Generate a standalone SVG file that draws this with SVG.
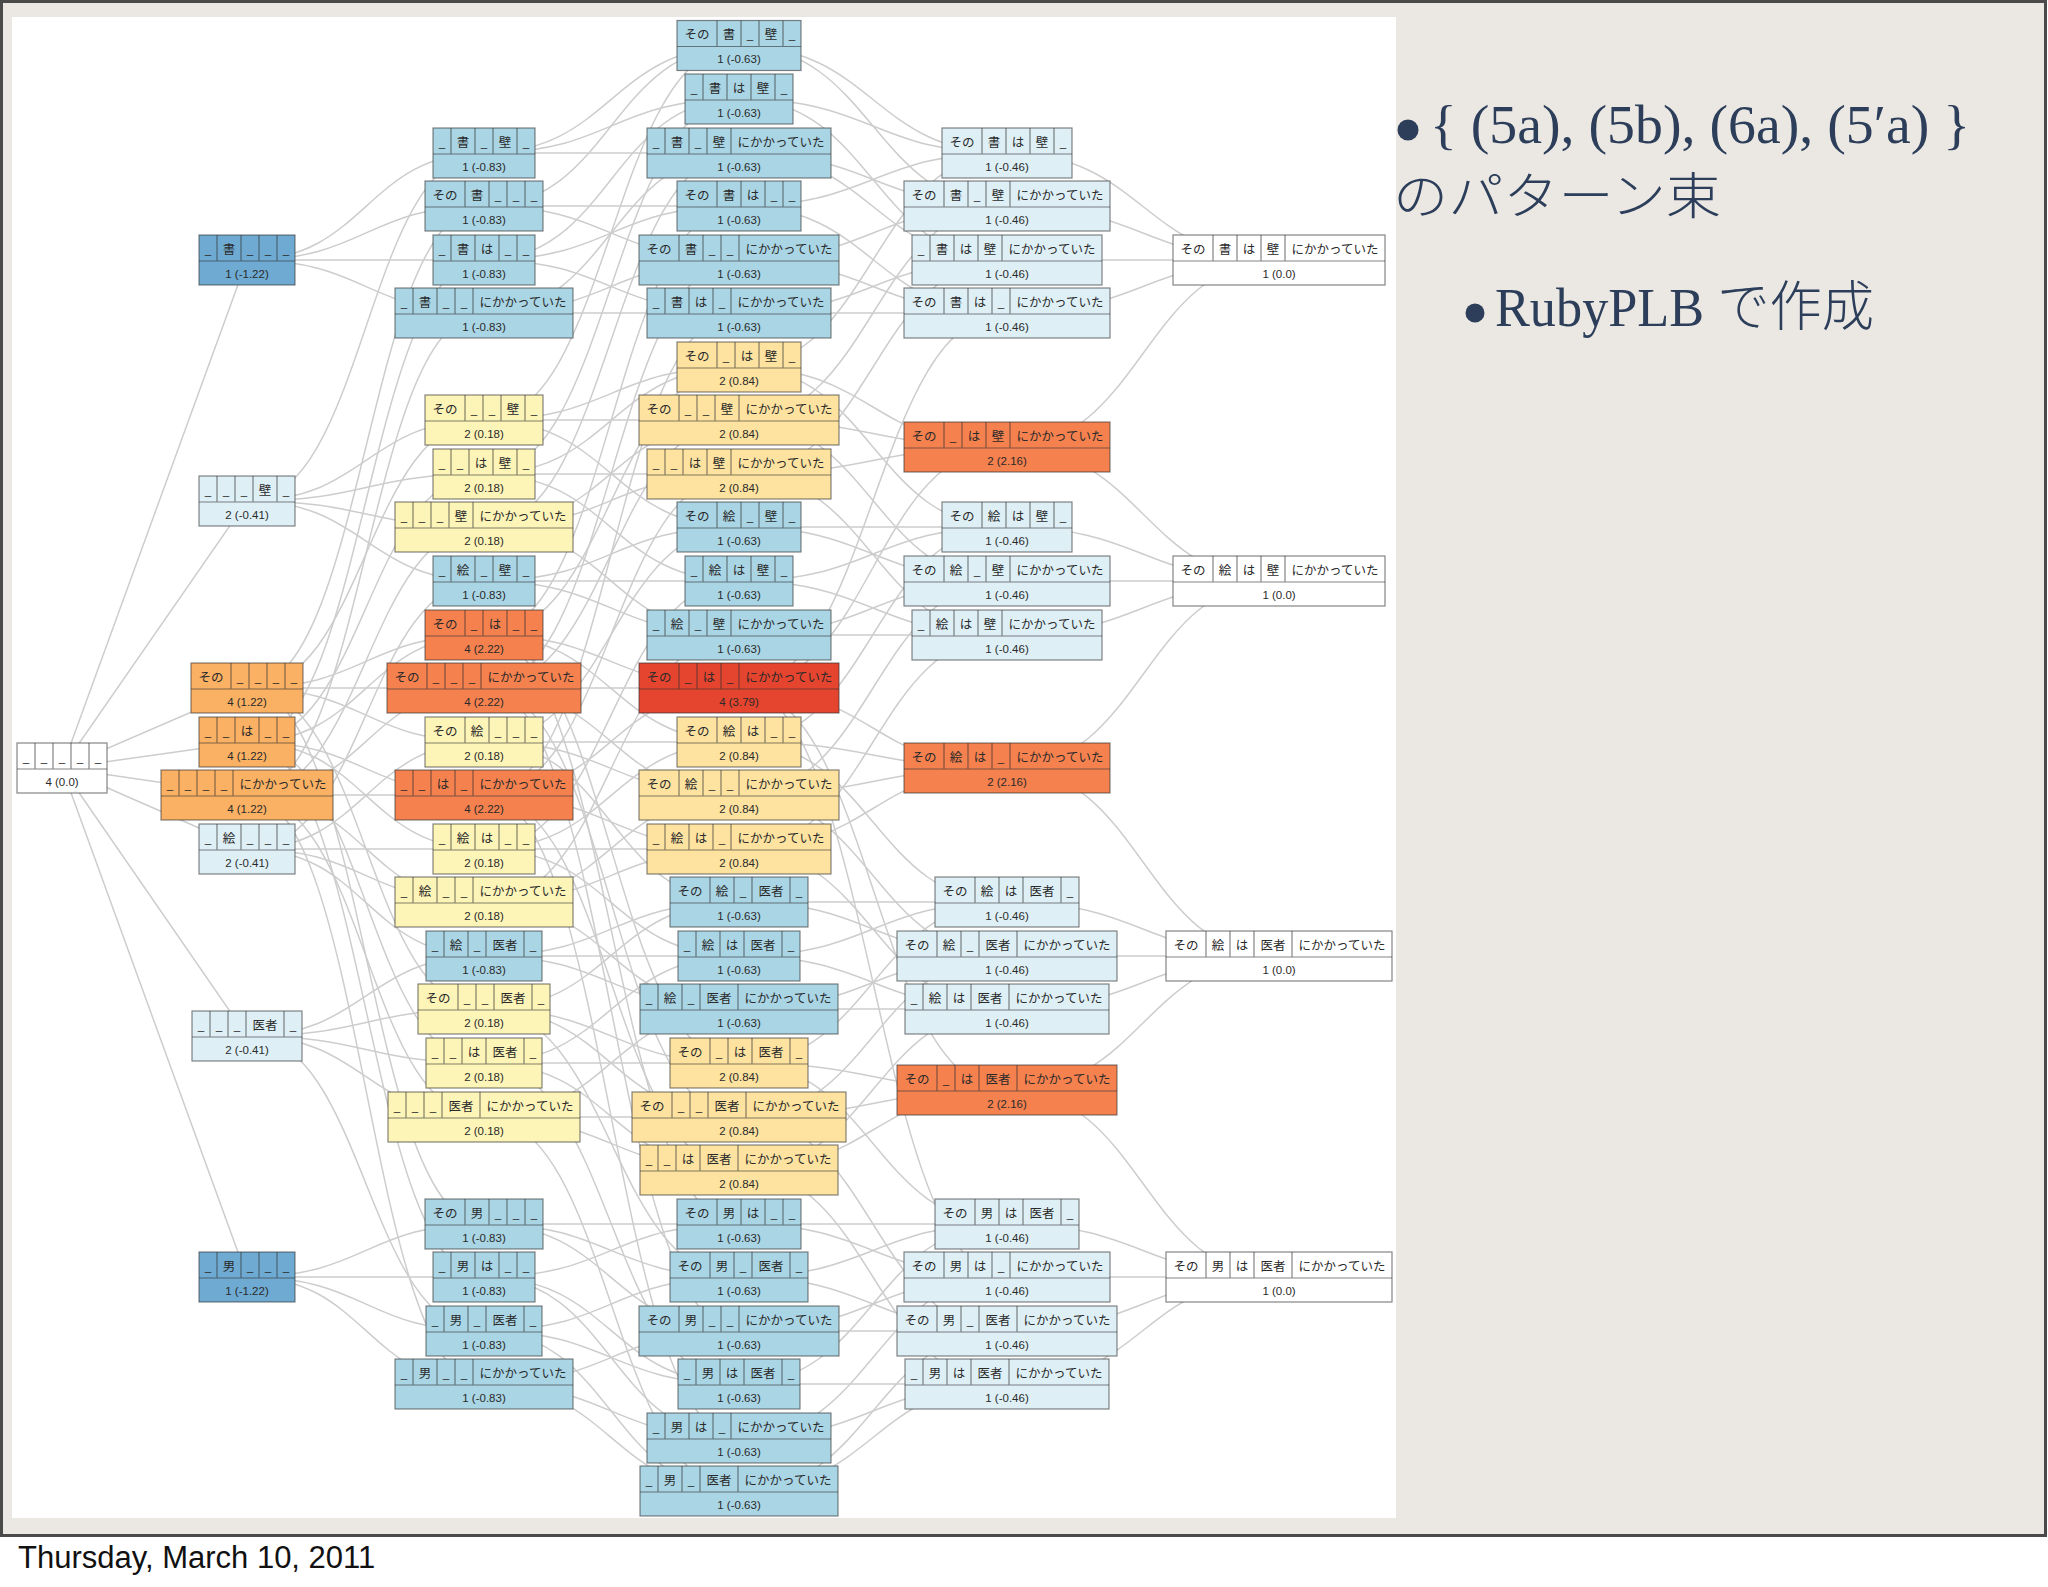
<svg xmlns="http://www.w3.org/2000/svg" width="2048" height="1587" viewBox="0 0 2048 1587">
<style>
.node rect{stroke:#333;stroke-opacity:.6;stroke-width:1.2}
.node path{fill:none;stroke:#333;stroke-opacity:.6;stroke-width:1.2}
.c{font-family:"Noto Sans CJK JP",sans-serif;font-size:12.5px;fill:#2a2a2a;text-anchor:middle}
.n{font-family:"Liberation Sans","Noto Sans",sans-serif;font-size:11.5px;fill:#2a2a2a;text-anchor:middle}
.b1 rect{fill:#6eaad2}.b2 rect{fill:#a9d5e4}.b3 rect{fill:#def0f6}.w rect{fill:#fff}
.y1 rect{fill:#fdf4b8}.y2 rect{fill:#fde2a0}.o1 rect{fill:#fbb163}.o2 rect{fill:#f5814f}.r rect{fill:#e5442e}
#edges path{fill:none;stroke:#cdcdcd;stroke-width:1.5}
.t{fill:#2c3e5a}
</style>
<rect width="2048" height="1587" fill="#fff"/>
<rect x="1.5" y="1.5" width="2044" height="1534" fill="#ebe8e3" stroke="#4a4a4a" stroke-width="3"/>
<rect x="12" y="17" width="1384" height="1501" fill="#fff"/>
<g id="edges">
<path d="M62 768L247 260"/><path d="M62 768L247 501"/><path d="M62 768L247 688"/><path d="M62 768L247 742"/><path d="M62 768L247 795"/><path d="M62 768L247 849"/><path d="M62 768L247 1036"/><path d="M62 768L247 1277"/>
<path d="M247 260C366 260 366 153 484 153"/><path d="M247 501C366 501 366 153 484 153"/>
<path d="M247 688C366 688 366 206 484 206"/><path d="M247 260C366 260 366 206 484 206"/>
<path d="M247 260C366 260 366 260 484 260"/><path d="M247 742C366 742 366 260 484 260"/>
<path d="M247 260C366 260 366 313 484 313"/><path d="M247 795C366 795 366 313 484 313"/>
<path d="M247 688C366 688 366 420 484 420"/><path d="M247 501C366 501 366 420 484 420"/>
<path d="M247 742C366 742 366 474 484 474"/><path d="M247 501C366 501 366 474 484 474"/>
<path d="M247 501C366 501 366 527 484 527"/><path d="M247 795C366 795 366 527 484 527"/>
<path d="M247 849C366 849 366 581 484 581"/><path d="M247 501C366 501 366 581 484 581"/>
<path d="M247 688C366 688 366 635 484 635"/><path d="M247 742C366 742 366 635 484 635"/>
<path d="M247 688C366 688 366 688 484 688"/><path d="M247 795C366 795 366 688 484 688"/>
<path d="M247 688C366 688 366 742 484 742"/><path d="M247 849C366 849 366 742 484 742"/>
<path d="M247 742C366 742 366 795 484 795"/><path d="M247 795C366 795 366 795 484 795"/>
<path d="M247 849C366 849 366 849 484 849"/><path d="M247 742C366 742 366 849 484 849"/>
<path d="M247 849C366 849 366 902 484 902"/><path d="M247 795C366 795 366 902 484 902"/>
<path d="M247 849C366 849 366 956 484 956"/><path d="M247 1036C366 1036 366 956 484 956"/>
<path d="M247 688C366 688 366 1009 484 1009"/><path d="M247 1036C366 1036 366 1009 484 1009"/>
<path d="M247 742C366 742 366 1063 484 1063"/><path d="M247 1036C366 1036 366 1063 484 1063"/>
<path d="M247 1036C366 1036 366 1117 484 1117"/><path d="M247 795C366 795 366 1117 484 1117"/>
<path d="M247 688C366 688 366 1224 484 1224"/><path d="M247 1277C366 1277 366 1224 484 1224"/>
<path d="M247 1277C366 1277 366 1277 484 1277"/><path d="M247 742C366 742 366 1277 484 1277"/>
<path d="M247 1277C366 1277 366 1331 484 1331"/><path d="M247 1036C366 1036 366 1331 484 1331"/>
<path d="M247 1277C366 1277 366 1384 484 1384"/><path d="M247 795C366 795 366 1384 484 1384"/>
<path d="M484 153C611 153 611 46 739 46"/><path d="M484 420C611 420 611 46 739 46"/><path d="M484 206C611 206 611 46 739 46"/>
<path d="M484 474C611 474 611 99 739 99"/><path d="M484 153C611 153 611 99 739 99"/><path d="M484 260C611 260 611 99 739 99"/>
<path d="M484 527C611 527 611 153 739 153"/><path d="M484 313C611 313 611 153 739 153"/><path d="M484 153C611 153 611 153 739 153"/>
<path d="M484 260C611 260 611 206 739 206"/><path d="M484 635C611 635 611 206 739 206"/><path d="M484 206C611 206 611 206 739 206"/>
<path d="M484 313C611 313 611 260 739 260"/><path d="M484 688C611 688 611 260 739 260"/><path d="M484 206C611 206 611 260 739 260"/>
<path d="M484 795C611 795 611 313 739 313"/><path d="M484 313C611 313 611 313 739 313"/><path d="M484 260C611 260 611 313 739 313"/>
<path d="M484 474C611 474 611 367 739 367"/><path d="M484 420C611 420 611 367 739 367"/><path d="M484 635C611 635 611 367 739 367"/>
<path d="M484 527C611 527 611 420 739 420"/><path d="M484 688C611 688 611 420 739 420"/><path d="M484 420C611 420 611 420 739 420"/>
<path d="M484 527C611 527 611 474 739 474"/><path d="M484 795C611 795 611 474 739 474"/><path d="M484 474C611 474 611 474 739 474"/>
<path d="M484 581C611 581 611 527 739 527"/><path d="M484 420C611 420 611 527 739 527"/><path d="M484 742C611 742 611 527 739 527"/>
<path d="M484 474C611 474 611 581 739 581"/><path d="M484 581C611 581 611 581 739 581"/><path d="M484 849C611 849 611 581 739 581"/>
<path d="M484 527C611 527 611 635 739 635"/><path d="M484 902C611 902 611 635 739 635"/><path d="M484 581C611 581 611 635 739 635"/>
<path d="M484 795C611 795 611 688 739 688"/><path d="M484 688C611 688 611 688 739 688"/><path d="M484 635C611 635 611 688 739 688"/>
<path d="M484 849C611 849 611 742 739 742"/><path d="M484 635C611 635 611 742 739 742"/><path d="M484 742C611 742 611 742 739 742"/>
<path d="M484 902C611 902 611 795 739 795"/><path d="M484 688C611 688 611 795 739 795"/><path d="M484 742C611 742 611 795 739 795"/>
<path d="M484 795C611 795 611 849 739 849"/><path d="M484 902C611 902 611 849 739 849"/><path d="M484 849C611 849 611 849 739 849"/>
<path d="M484 956C611 956 611 902 739 902"/><path d="M484 1009C611 1009 611 902 739 902"/><path d="M484 742C611 742 611 902 739 902"/>
<path d="M484 1063C611 1063 611 956 739 956"/><path d="M484 956C611 956 611 956 739 956"/><path d="M484 849C611 849 611 956 739 956"/>
<path d="M484 1117C611 1117 611 1009 739 1009"/><path d="M484 902C611 902 611 1009 739 1009"/><path d="M484 956C611 956 611 1009 739 1009"/>
<path d="M484 1063C611 1063 611 1063 739 1063"/><path d="M484 1009C611 1009 611 1063 739 1063"/><path d="M484 635C611 635 611 1063 739 1063"/>
<path d="M484 1117C611 1117 611 1117 739 1117"/><path d="M484 688C611 688 611 1117 739 1117"/><path d="M484 1009C611 1009 611 1117 739 1117"/>
<path d="M484 1117C611 1117 611 1170 739 1170"/><path d="M484 795C611 795 611 1170 739 1170"/><path d="M484 1063C611 1063 611 1170 739 1170"/>
<path d="M484 1277C611 1277 611 1224 739 1224"/><path d="M484 635C611 635 611 1224 739 1224"/><path d="M484 1224C611 1224 611 1224 739 1224"/>
<path d="M484 1331C611 1331 611 1277 739 1277"/><path d="M484 1009C611 1009 611 1277 739 1277"/><path d="M484 1224C611 1224 611 1277 739 1277"/>
<path d="M484 1384C611 1384 611 1331 739 1331"/><path d="M484 688C611 688 611 1331 739 1331"/><path d="M484 1224C611 1224 611 1331 739 1331"/>
<path d="M484 1063C611 1063 611 1384 739 1384"/><path d="M484 1331C611 1331 611 1384 739 1384"/><path d="M484 1277C611 1277 611 1384 739 1384"/>
<path d="M484 795C611 795 611 1438 739 1438"/><path d="M484 1384C611 1384 611 1438 739 1438"/><path d="M484 1277C611 1277 611 1438 739 1438"/>
<path d="M484 1117C611 1117 611 1491 739 1491"/><path d="M484 1384C611 1384 611 1491 739 1491"/><path d="M484 1331C611 1331 611 1491 739 1491"/>
<path d="M739 99C873 99 873 153 1007 153"/><path d="M739 367C873 367 873 153 1007 153"/><path d="M739 46C873 46 873 153 1007 153"/><path d="M739 206C873 206 873 153 1007 153"/>
<path d="M739 153C873 153 873 206 1007 206"/><path d="M739 420C873 420 873 206 1007 206"/><path d="M739 260C873 260 873 206 1007 206"/><path d="M739 46C873 46 873 206 1007 206"/>
<path d="M739 474C873 474 873 260 1007 260"/><path d="M739 153C873 153 873 260 1007 260"/><path d="M739 313C873 313 873 260 1007 260"/><path d="M739 99C873 99 873 260 1007 260"/>
<path d="M739 313C873 313 873 313 1007 313"/><path d="M739 688C873 688 873 313 1007 313"/><path d="M739 260C873 260 873 313 1007 313"/><path d="M739 206C873 206 873 313 1007 313"/>
<path d="M739 474C873 474 873 447 1007 447"/><path d="M739 420C873 420 873 447 1007 447"/><path d="M739 688C873 688 873 447 1007 447"/><path d="M739 367C873 367 873 447 1007 447"/>
<path d="M739 581C873 581 873 527 1007 527"/><path d="M739 367C873 367 873 527 1007 527"/><path d="M739 527C873 527 873 527 1007 527"/><path d="M739 742C873 742 873 527 1007 527"/>
<path d="M739 635C873 635 873 581 1007 581"/><path d="M739 420C873 420 873 581 1007 581"/><path d="M739 795C873 795 873 581 1007 581"/><path d="M739 527C873 527 873 581 1007 581"/>
<path d="M739 474C873 474 873 635 1007 635"/><path d="M739 635C873 635 873 635 1007 635"/><path d="M739 849C873 849 873 635 1007 635"/><path d="M739 581C873 581 873 635 1007 635"/>
<path d="M739 849C873 849 873 768 1007 768"/><path d="M739 688C873 688 873 768 1007 768"/><path d="M739 795C873 795 873 768 1007 768"/><path d="M739 742C873 742 873 768 1007 768"/>
<path d="M739 956C873 956 873 902 1007 902"/><path d="M739 1063C873 1063 873 902 1007 902"/><path d="M739 902C873 902 873 902 1007 902"/><path d="M739 742C873 742 873 902 1007 902"/>
<path d="M739 1009C873 1009 873 956 1007 956"/><path d="M739 1117C873 1117 873 956 1007 956"/><path d="M739 795C873 795 873 956 1007 956"/><path d="M739 902C873 902 873 956 1007 956"/>
<path d="M739 1170C873 1170 873 1009 1007 1009"/><path d="M739 1009C873 1009 873 1009 1007 1009"/><path d="M739 849C873 849 873 1009 1007 1009"/><path d="M739 956C873 956 873 1009 1007 1009"/>
<path d="M739 1170C873 1170 873 1090 1007 1090"/><path d="M739 1117C873 1117 873 1090 1007 1090"/><path d="M739 688C873 688 873 1090 1007 1090"/><path d="M739 1063C873 1063 873 1090 1007 1090"/>
<path d="M739 1384C873 1384 873 1224 1007 1224"/><path d="M739 1063C873 1063 873 1224 1007 1224"/><path d="M739 1277C873 1277 873 1224 1007 1224"/><path d="M739 1224C873 1224 873 1224 1007 1224"/>
<path d="M739 1438C873 1438 873 1277 1007 1277"/><path d="M739 688C873 688 873 1277 1007 1277"/><path d="M739 1331C873 1331 873 1277 1007 1277"/><path d="M739 1224C873 1224 873 1277 1007 1277"/>
<path d="M739 1491C873 1491 873 1331 1007 1331"/><path d="M739 1117C873 1117 873 1331 1007 1331"/><path d="M739 1331C873 1331 873 1331 1007 1331"/><path d="M739 1277C873 1277 873 1331 1007 1331"/>
<path d="M739 1170C873 1170 873 1384 1007 1384"/><path d="M739 1491C873 1491 873 1384 1007 1384"/><path d="M739 1438C873 1438 873 1384 1007 1384"/><path d="M739 1384C873 1384 873 1384 1007 1384"/>
<path d="M1007 260C1143 260 1143 260 1279 260"/><path d="M1007 447C1143 447 1143 260 1279 260"/><path d="M1007 206C1143 206 1143 260 1279 260"/><path d="M1007 313C1143 313 1143 260 1279 260"/><path d="M1007 153C1143 153 1143 260 1279 260"/>
<path d="M1007 635C1143 635 1143 581 1279 581"/><path d="M1007 447C1143 447 1143 581 1279 581"/><path d="M1007 581C1143 581 1143 581 1279 581"/><path d="M1007 768C1143 768 1143 581 1279 581"/><path d="M1007 527C1143 527 1143 581 1279 581"/>
<path d="M1007 1009C1143 1009 1143 956 1279 956"/><path d="M1007 1090C1143 1090 1143 956 1279 956"/><path d="M1007 956C1143 956 1143 956 1279 956"/><path d="M1007 768C1143 768 1143 956 1279 956"/><path d="M1007 902C1143 902 1143 956 1279 956"/>
<path d="M1007 1384C1143 1384 1143 1277 1279 1277"/><path d="M1007 1090C1143 1090 1143 1277 1279 1277"/><path d="M1007 1331C1143 1331 1143 1277 1279 1277"/><path d="M1007 1277C1143 1277 1143 1277 1279 1277"/><path d="M1007 1224C1143 1224 1143 1277 1279 1277"/>
</g>
<g id="nodes">
<g id="p_root" class="node w" transform="translate(17,743)"><rect width="90" height="50"/><path d="M0 26h90M18 0v26M36 0v26M54 0v26M72 0v26"/><text class="c" y="18.5"><tspan x="9">_</tspan><tspan x="27">_</tspan><tspan x="45">_</tspan><tspan x="63">_</tspan><tspan x="81">_</tspan></text><text class="n" x="45" y="42.5">4 (0.0)</text></g>

<g id="p__K___" class="node b1" transform="translate(199,235)"><rect width="96" height="50"/><path d="M0 26h96M18 0v26M42 0v26M60 0v26M78 0v26"/><text class="c" y="18.5"><tspan x="9">_</tspan><tspan x="30">書</tspan><tspan x="51">_</tspan><tspan x="69">_</tspan><tspan x="87">_</tspan></text><text class="n" x="48" y="42.5">1 (-1.22)</text></g>
<g id="p____B_" class="node b3" transform="translate(199,476)"><rect width="96" height="50"/><path d="M0 26h96M18 0v26M36 0v26M54 0v26M78 0v26"/><text class="c" y="18.5"><tspan x="9">_</tspan><tspan x="27">_</tspan><tspan x="45">_</tspan><tspan x="66">壁</tspan><tspan x="87">_</tspan></text><text class="n" x="48" y="42.5">2 (-0.41)</text></g>
<g id="p_T____" class="node o1" transform="translate(191,663)"><rect width="112" height="50"/><path d="M0 26h112M40 0v26M58 0v26M76 0v26M94 0v26"/><text class="c" y="18.5"><tspan x="20">その</tspan><tspan x="49">_</tspan><tspan x="67">_</tspan><tspan x="85">_</tspan><tspan x="103">_</tspan></text><text class="n" x="56" y="42.5">4 (1.22)</text></g>
<g id="p___W__" class="node o1" transform="translate(199,717)"><rect width="96" height="50"/><path d="M0 26h96M18 0v26M36 0v26M60 0v26M78 0v26"/><text class="c" y="18.5"><tspan x="9">_</tspan><tspan x="27">_</tspan><tspan x="48">は</tspan><tspan x="69">_</tspan><tspan x="87">_</tspan></text><text class="n" x="48" y="42.5">4 (1.22)</text></g>
<g id="p_____N" class="node o1" transform="translate(161,770)"><rect width="172" height="50"/><path d="M0 26h172M18 0v26M36 0v26M54 0v26M72 0v26"/><text class="c" y="18.5"><tspan x="9">_</tspan><tspan x="27">_</tspan><tspan x="45">_</tspan><tspan x="63">_</tspan><tspan x="122">にかかっていた</tspan></text><text class="n" x="86" y="42.5">4 (1.22)</text></g>
<g id="p__E___" class="node b3" transform="translate(199,824)"><rect width="96" height="50"/><path d="M0 26h96M18 0v26M42 0v26M60 0v26M78 0v26"/><text class="c" y="18.5"><tspan x="9">_</tspan><tspan x="30">絵</tspan><tspan x="51">_</tspan><tspan x="69">_</tspan><tspan x="87">_</tspan></text><text class="n" x="48" y="42.5">2 (-0.41)</text></g>
<g id="p____I_" class="node b3" transform="translate(192,1011)"><rect width="110" height="50"/><path d="M0 26h110M18 0v26M36 0v26M54 0v26M92 0v26"/><text class="c" y="18.5"><tspan x="9">_</tspan><tspan x="27">_</tspan><tspan x="45">_</tspan><tspan x="73">医者</tspan><tspan x="101">_</tspan></text><text class="n" x="55" y="42.5">2 (-0.41)</text></g>
<g id="p__O___" class="node b1" transform="translate(199,1252)"><rect width="96" height="50"/><path d="M0 26h96M18 0v26M42 0v26M60 0v26M78 0v26"/><text class="c" y="18.5"><tspan x="9">_</tspan><tspan x="30">男</tspan><tspan x="51">_</tspan><tspan x="69">_</tspan><tspan x="87">_</tspan></text><text class="n" x="48" y="42.5">1 (-1.22)</text></g>

<g id="p__K_B_" class="node b2" transform="translate(433,128)"><rect width="102" height="50"/><path d="M0 26h102M18 0v26M42 0v26M60 0v26M84 0v26"/><text class="c" y="18.5"><tspan x="9">_</tspan><tspan x="30">書</tspan><tspan x="51">_</tspan><tspan x="72">壁</tspan><tspan x="93">_</tspan></text><text class="n" x="51" y="42.5">1 (-0.83)</text></g>
<g id="p_TK___" class="node b2" transform="translate(425,181)"><rect width="118" height="50"/><path d="M0 26h118M40 0v26M64 0v26M82 0v26M100 0v26"/><text class="c" y="18.5"><tspan x="20">その</tspan><tspan x="52">書</tspan><tspan x="73">_</tspan><tspan x="91">_</tspan><tspan x="109">_</tspan></text><text class="n" x="59" y="42.5">1 (-0.83)</text></g>
<g id="p__KW__" class="node b2" transform="translate(433,235)"><rect width="102" height="50"/><path d="M0 26h102M18 0v26M42 0v26M66 0v26M84 0v26"/><text class="c" y="18.5"><tspan x="9">_</tspan><tspan x="30">書</tspan><tspan x="54">は</tspan><tspan x="75">_</tspan><tspan x="93">_</tspan></text><text class="n" x="51" y="42.5">1 (-0.83)</text></g>
<g id="p__K__N" class="node b2" transform="translate(395,288)"><rect width="178" height="50"/><path d="M0 26h178M18 0v26M42 0v26M60 0v26M78 0v26"/><text class="c" y="18.5"><tspan x="9">_</tspan><tspan x="30">書</tspan><tspan x="51">_</tspan><tspan x="69">_</tspan><tspan x="128">にかかっていた</tspan></text><text class="n" x="89" y="42.5">1 (-0.83)</text></g>
<g id="p_T__B_" class="node y1" transform="translate(425,395)"><rect width="118" height="50"/><path d="M0 26h118M40 0v26M58 0v26M76 0v26M100 0v26"/><text class="c" y="18.5"><tspan x="20">その</tspan><tspan x="49">_</tspan><tspan x="67">_</tspan><tspan x="88">壁</tspan><tspan x="109">_</tspan></text><text class="n" x="59" y="42.5">2 (0.18)</text></g>
<g id="p___WB_" class="node y1" transform="translate(433,449)"><rect width="102" height="50"/><path d="M0 26h102M18 0v26M36 0v26M60 0v26M84 0v26"/><text class="c" y="18.5"><tspan x="9">_</tspan><tspan x="27">_</tspan><tspan x="48">は</tspan><tspan x="72">壁</tspan><tspan x="93">_</tspan></text><text class="n" x="51" y="42.5">2 (0.18)</text></g>
<g id="p____BN" class="node y1" transform="translate(395,502)"><rect width="178" height="50"/><path d="M0 26h178M18 0v26M36 0v26M54 0v26M78 0v26"/><text class="c" y="18.5"><tspan x="9">_</tspan><tspan x="27">_</tspan><tspan x="45">_</tspan><tspan x="66">壁</tspan><tspan x="128">にかかっていた</tspan></text><text class="n" x="89" y="42.5">2 (0.18)</text></g>
<g id="p__E_B_" class="node b2" transform="translate(433,556)"><rect width="102" height="50"/><path d="M0 26h102M18 0v26M42 0v26M60 0v26M84 0v26"/><text class="c" y="18.5"><tspan x="9">_</tspan><tspan x="30">絵</tspan><tspan x="51">_</tspan><tspan x="72">壁</tspan><tspan x="93">_</tspan></text><text class="n" x="51" y="42.5">1 (-0.83)</text></g>
<g id="p_T_W__" class="node o2" transform="translate(425,610)"><rect width="118" height="50"/><path d="M0 26h118M40 0v26M58 0v26M82 0v26M100 0v26"/><text class="c" y="18.5"><tspan x="20">その</tspan><tspan x="49">_</tspan><tspan x="70">は</tspan><tspan x="91">_</tspan><tspan x="109">_</tspan></text><text class="n" x="59" y="42.5">4 (2.22)</text></g>
<g id="p_T___N" class="node o2" transform="translate(387,663)"><rect width="194" height="50"/><path d="M0 26h194M40 0v26M58 0v26M76 0v26M94 0v26"/><text class="c" y="18.5"><tspan x="20">その</tspan><tspan x="49">_</tspan><tspan x="67">_</tspan><tspan x="85">_</tspan><tspan x="144">にかかっていた</tspan></text><text class="n" x="97" y="42.5">4 (2.22)</text></g>
<g id="p_TE___" class="node y1" transform="translate(425,717)"><rect width="118" height="50"/><path d="M0 26h118M40 0v26M64 0v26M82 0v26M100 0v26"/><text class="c" y="18.5"><tspan x="20">その</tspan><tspan x="52">絵</tspan><tspan x="73">_</tspan><tspan x="91">_</tspan><tspan x="109">_</tspan></text><text class="n" x="59" y="42.5">2 (0.18)</text></g>
<g id="p___W_N" class="node o2" transform="translate(395,770)"><rect width="178" height="50"/><path d="M0 26h178M18 0v26M36 0v26M60 0v26M78 0v26"/><text class="c" y="18.5"><tspan x="9">_</tspan><tspan x="27">_</tspan><tspan x="48">は</tspan><tspan x="69">_</tspan><tspan x="128">にかかっていた</tspan></text><text class="n" x="89" y="42.5">4 (2.22)</text></g>
<g id="p__EW__" class="node y1" transform="translate(433,824)"><rect width="102" height="50"/><path d="M0 26h102M18 0v26M42 0v26M66 0v26M84 0v26"/><text class="c" y="18.5"><tspan x="9">_</tspan><tspan x="30">絵</tspan><tspan x="54">は</tspan><tspan x="75">_</tspan><tspan x="93">_</tspan></text><text class="n" x="51" y="42.5">2 (0.18)</text></g>
<g id="p__E__N" class="node y1" transform="translate(395,877)"><rect width="178" height="50"/><path d="M0 26h178M18 0v26M42 0v26M60 0v26M78 0v26"/><text class="c" y="18.5"><tspan x="9">_</tspan><tspan x="30">絵</tspan><tspan x="51">_</tspan><tspan x="69">_</tspan><tspan x="128">にかかっていた</tspan></text><text class="n" x="89" y="42.5">2 (0.18)</text></g>
<g id="p__E_I_" class="node b2" transform="translate(426,931)"><rect width="116" height="50"/><path d="M0 26h116M18 0v26M42 0v26M60 0v26M98 0v26"/><text class="c" y="18.5"><tspan x="9">_</tspan><tspan x="30">絵</tspan><tspan x="51">_</tspan><tspan x="79">医者</tspan><tspan x="107">_</tspan></text><text class="n" x="58" y="42.5">1 (-0.83)</text></g>
<g id="p_T__I_" class="node y1" transform="translate(418,984)"><rect width="132" height="50"/><path d="M0 26h132M40 0v26M58 0v26M76 0v26M114 0v26"/><text class="c" y="18.5"><tspan x="20">その</tspan><tspan x="49">_</tspan><tspan x="67">_</tspan><tspan x="95">医者</tspan><tspan x="123">_</tspan></text><text class="n" x="66" y="42.5">2 (0.18)</text></g>
<g id="p___WI_" class="node y1" transform="translate(426,1038)"><rect width="116" height="50"/><path d="M0 26h116M18 0v26M36 0v26M60 0v26M98 0v26"/><text class="c" y="18.5"><tspan x="9">_</tspan><tspan x="27">_</tspan><tspan x="48">は</tspan><tspan x="79">医者</tspan><tspan x="107">_</tspan></text><text class="n" x="58" y="42.5">2 (0.18)</text></g>
<g id="p____IN" class="node y1" transform="translate(388,1092)"><rect width="192" height="50"/><path d="M0 26h192M18 0v26M36 0v26M54 0v26M92 0v26"/><text class="c" y="18.5"><tspan x="9">_</tspan><tspan x="27">_</tspan><tspan x="45">_</tspan><tspan x="73">医者</tspan><tspan x="142">にかかっていた</tspan></text><text class="n" x="96" y="42.5">2 (0.18)</text></g>
<g id="p_TO___" class="node b2" transform="translate(425,1199)"><rect width="118" height="50"/><path d="M0 26h118M40 0v26M64 0v26M82 0v26M100 0v26"/><text class="c" y="18.5"><tspan x="20">その</tspan><tspan x="52">男</tspan><tspan x="73">_</tspan><tspan x="91">_</tspan><tspan x="109">_</tspan></text><text class="n" x="59" y="42.5">1 (-0.83)</text></g>
<g id="p__OW__" class="node b2" transform="translate(433,1252)"><rect width="102" height="50"/><path d="M0 26h102M18 0v26M42 0v26M66 0v26M84 0v26"/><text class="c" y="18.5"><tspan x="9">_</tspan><tspan x="30">男</tspan><tspan x="54">は</tspan><tspan x="75">_</tspan><tspan x="93">_</tspan></text><text class="n" x="51" y="42.5">1 (-0.83)</text></g>
<g id="p__O_I_" class="node b2" transform="translate(426,1306)"><rect width="116" height="50"/><path d="M0 26h116M18 0v26M42 0v26M60 0v26M98 0v26"/><text class="c" y="18.5"><tspan x="9">_</tspan><tspan x="30">男</tspan><tspan x="51">_</tspan><tspan x="79">医者</tspan><tspan x="107">_</tspan></text><text class="n" x="58" y="42.5">1 (-0.83)</text></g>
<g id="p__O__N" class="node b2" transform="translate(395,1359)"><rect width="178" height="50"/><path d="M0 26h178M18 0v26M42 0v26M60 0v26M78 0v26"/><text class="c" y="18.5"><tspan x="9">_</tspan><tspan x="30">男</tspan><tspan x="51">_</tspan><tspan x="69">_</tspan><tspan x="128">にかかっていた</tspan></text><text class="n" x="89" y="42.5">1 (-0.83)</text></g>

<g id="p_TK_B_" class="node b2" transform="translate(677,20.5)"><rect width="124" height="50"/><path d="M0 26h124M40 0v26M64 0v26M82 0v26M106 0v26"/><text class="c" y="18.5"><tspan x="20">その</tspan><tspan x="52">書</tspan><tspan x="73">_</tspan><tspan x="94">壁</tspan><tspan x="115">_</tspan></text><text class="n" x="62" y="42.5">1 (-0.63)</text></g>
<g id="p__KWB_" class="node b2" transform="translate(685,74)"><rect width="108" height="50"/><path d="M0 26h108M18 0v26M42 0v26M66 0v26M90 0v26"/><text class="c" y="18.5"><tspan x="9">_</tspan><tspan x="30">書</tspan><tspan x="54">は</tspan><tspan x="78">壁</tspan><tspan x="99">_</tspan></text><text class="n" x="54" y="42.5">1 (-0.63)</text></g>
<g id="p__K_BN" class="node b2" transform="translate(647,128)"><rect width="184" height="50"/><path d="M0 26h184M18 0v26M42 0v26M60 0v26M84 0v26"/><text class="c" y="18.5"><tspan x="9">_</tspan><tspan x="30">書</tspan><tspan x="51">_</tspan><tspan x="72">壁</tspan><tspan x="134">にかかっていた</tspan></text><text class="n" x="92" y="42.5">1 (-0.63)</text></g>
<g id="p_TKW__" class="node b2" transform="translate(677,181)"><rect width="124" height="50"/><path d="M0 26h124M40 0v26M64 0v26M88 0v26M106 0v26"/><text class="c" y="18.5"><tspan x="20">その</tspan><tspan x="52">書</tspan><tspan x="76">は</tspan><tspan x="97">_</tspan><tspan x="115">_</tspan></text><text class="n" x="62" y="42.5">1 (-0.63)</text></g>
<g id="p_TK__N" class="node b2" transform="translate(639,235)"><rect width="200" height="50"/><path d="M0 26h200M40 0v26M64 0v26M82 0v26M100 0v26"/><text class="c" y="18.5"><tspan x="20">その</tspan><tspan x="52">書</tspan><tspan x="73">_</tspan><tspan x="91">_</tspan><tspan x="150">にかかっていた</tspan></text><text class="n" x="100" y="42.5">1 (-0.63)</text></g>
<g id="p__KW_N" class="node b2" transform="translate(647,288)"><rect width="184" height="50"/><path d="M0 26h184M18 0v26M42 0v26M66 0v26M84 0v26"/><text class="c" y="18.5"><tspan x="9">_</tspan><tspan x="30">書</tspan><tspan x="54">は</tspan><tspan x="75">_</tspan><tspan x="134">にかかっていた</tspan></text><text class="n" x="92" y="42.5">1 (-0.63)</text></g>
<g id="p_T_WB_" class="node y2" transform="translate(677,342)"><rect width="124" height="50"/><path d="M0 26h124M40 0v26M58 0v26M82 0v26M106 0v26"/><text class="c" y="18.5"><tspan x="20">その</tspan><tspan x="49">_</tspan><tspan x="70">は</tspan><tspan x="94">壁</tspan><tspan x="115">_</tspan></text><text class="n" x="62" y="42.5">2 (0.84)</text></g>
<g id="p_T__BN" class="node y2" transform="translate(639,395)"><rect width="200" height="50"/><path d="M0 26h200M40 0v26M58 0v26M76 0v26M100 0v26"/><text class="c" y="18.5"><tspan x="20">その</tspan><tspan x="49">_</tspan><tspan x="67">_</tspan><tspan x="88">壁</tspan><tspan x="150">にかかっていた</tspan></text><text class="n" x="100" y="42.5">2 (0.84)</text></g>
<g id="p___WBN" class="node y2" transform="translate(647,449)"><rect width="184" height="50"/><path d="M0 26h184M18 0v26M36 0v26M60 0v26M84 0v26"/><text class="c" y="18.5"><tspan x="9">_</tspan><tspan x="27">_</tspan><tspan x="48">は</tspan><tspan x="72">壁</tspan><tspan x="134">にかかっていた</tspan></text><text class="n" x="92" y="42.5">2 (0.84)</text></g>
<g id="p_TE_B_" class="node b2" transform="translate(677,502)"><rect width="124" height="50"/><path d="M0 26h124M40 0v26M64 0v26M82 0v26M106 0v26"/><text class="c" y="18.5"><tspan x="20">その</tspan><tspan x="52">絵</tspan><tspan x="73">_</tspan><tspan x="94">壁</tspan><tspan x="115">_</tspan></text><text class="n" x="62" y="42.5">1 (-0.63)</text></g>
<g id="p__EWB_" class="node b2" transform="translate(685,556)"><rect width="108" height="50"/><path d="M0 26h108M18 0v26M42 0v26M66 0v26M90 0v26"/><text class="c" y="18.5"><tspan x="9">_</tspan><tspan x="30">絵</tspan><tspan x="54">は</tspan><tspan x="78">壁</tspan><tspan x="99">_</tspan></text><text class="n" x="54" y="42.5">1 (-0.63)</text></g>
<g id="p__E_BN" class="node b2" transform="translate(647,610)"><rect width="184" height="50"/><path d="M0 26h184M18 0v26M42 0v26M60 0v26M84 0v26"/><text class="c" y="18.5"><tspan x="9">_</tspan><tspan x="30">絵</tspan><tspan x="51">_</tspan><tspan x="72">壁</tspan><tspan x="134">にかかっていた</tspan></text><text class="n" x="92" y="42.5">1 (-0.63)</text></g>
<g id="p_T_W_N" class="node r" transform="translate(639,663)"><rect width="200" height="50"/><path d="M0 26h200M40 0v26M58 0v26M82 0v26M100 0v26"/><text class="c" y="18.5"><tspan x="20">その</tspan><tspan x="49">_</tspan><tspan x="70">は</tspan><tspan x="91">_</tspan><tspan x="150">にかかっていた</tspan></text><text class="n" x="100" y="42.5">4 (3.79)</text></g>
<g id="p_TEW__" class="node y2" transform="translate(677,717)"><rect width="124" height="50"/><path d="M0 26h124M40 0v26M64 0v26M88 0v26M106 0v26"/><text class="c" y="18.5"><tspan x="20">その</tspan><tspan x="52">絵</tspan><tspan x="76">は</tspan><tspan x="97">_</tspan><tspan x="115">_</tspan></text><text class="n" x="62" y="42.5">2 (0.84)</text></g>
<g id="p_TE__N" class="node y2" transform="translate(639,770)"><rect width="200" height="50"/><path d="M0 26h200M40 0v26M64 0v26M82 0v26M100 0v26"/><text class="c" y="18.5"><tspan x="20">その</tspan><tspan x="52">絵</tspan><tspan x="73">_</tspan><tspan x="91">_</tspan><tspan x="150">にかかっていた</tspan></text><text class="n" x="100" y="42.5">2 (0.84)</text></g>
<g id="p__EW_N" class="node y2" transform="translate(647,824)"><rect width="184" height="50"/><path d="M0 26h184M18 0v26M42 0v26M66 0v26M84 0v26"/><text class="c" y="18.5"><tspan x="9">_</tspan><tspan x="30">絵</tspan><tspan x="54">は</tspan><tspan x="75">_</tspan><tspan x="134">にかかっていた</tspan></text><text class="n" x="92" y="42.5">2 (0.84)</text></g>
<g id="p_TE_I_" class="node b2" transform="translate(670,877)"><rect width="138" height="50"/><path d="M0 26h138M40 0v26M64 0v26M82 0v26M120 0v26"/><text class="c" y="18.5"><tspan x="20">その</tspan><tspan x="52">絵</tspan><tspan x="73">_</tspan><tspan x="101">医者</tspan><tspan x="129">_</tspan></text><text class="n" x="69" y="42.5">1 (-0.63)</text></g>
<g id="p__EWI_" class="node b2" transform="translate(678,931)"><rect width="122" height="50"/><path d="M0 26h122M18 0v26M42 0v26M66 0v26M104 0v26"/><text class="c" y="18.5"><tspan x="9">_</tspan><tspan x="30">絵</tspan><tspan x="54">は</tspan><tspan x="85">医者</tspan><tspan x="113">_</tspan></text><text class="n" x="61" y="42.5">1 (-0.63)</text></g>
<g id="p__E_IN" class="node b2" transform="translate(640,984)"><rect width="198" height="50"/><path d="M0 26h198M18 0v26M42 0v26M60 0v26M98 0v26"/><text class="c" y="18.5"><tspan x="9">_</tspan><tspan x="30">絵</tspan><tspan x="51">_</tspan><tspan x="79">医者</tspan><tspan x="148">にかかっていた</tspan></text><text class="n" x="99" y="42.5">1 (-0.63)</text></g>
<g id="p_T_WI_" class="node y2" transform="translate(670,1038)"><rect width="138" height="50"/><path d="M0 26h138M40 0v26M58 0v26M82 0v26M120 0v26"/><text class="c" y="18.5"><tspan x="20">その</tspan><tspan x="49">_</tspan><tspan x="70">は</tspan><tspan x="101">医者</tspan><tspan x="129">_</tspan></text><text class="n" x="69" y="42.5">2 (0.84)</text></g>
<g id="p_T__IN" class="node y2" transform="translate(632,1092)"><rect width="214" height="50"/><path d="M0 26h214M40 0v26M58 0v26M76 0v26M114 0v26"/><text class="c" y="18.5"><tspan x="20">その</tspan><tspan x="49">_</tspan><tspan x="67">_</tspan><tspan x="95">医者</tspan><tspan x="164">にかかっていた</tspan></text><text class="n" x="107" y="42.5">2 (0.84)</text></g>
<g id="p___WIN" class="node y2" transform="translate(640,1145)"><rect width="198" height="50"/><path d="M0 26h198M18 0v26M36 0v26M60 0v26M98 0v26"/><text class="c" y="18.5"><tspan x="9">_</tspan><tspan x="27">_</tspan><tspan x="48">は</tspan><tspan x="79">医者</tspan><tspan x="148">にかかっていた</tspan></text><text class="n" x="99" y="42.5">2 (0.84)</text></g>
<g id="p_TOW__" class="node b2" transform="translate(677,1199)"><rect width="124" height="50"/><path d="M0 26h124M40 0v26M64 0v26M88 0v26M106 0v26"/><text class="c" y="18.5"><tspan x="20">その</tspan><tspan x="52">男</tspan><tspan x="76">は</tspan><tspan x="97">_</tspan><tspan x="115">_</tspan></text><text class="n" x="62" y="42.5">1 (-0.63)</text></g>
<g id="p_TO_I_" class="node b2" transform="translate(670,1252)"><rect width="138" height="50"/><path d="M0 26h138M40 0v26M64 0v26M82 0v26M120 0v26"/><text class="c" y="18.5"><tspan x="20">その</tspan><tspan x="52">男</tspan><tspan x="73">_</tspan><tspan x="101">医者</tspan><tspan x="129">_</tspan></text><text class="n" x="69" y="42.5">1 (-0.63)</text></g>
<g id="p_TO__N" class="node b2" transform="translate(639,1306)"><rect width="200" height="50"/><path d="M0 26h200M40 0v26M64 0v26M82 0v26M100 0v26"/><text class="c" y="18.5"><tspan x="20">その</tspan><tspan x="52">男</tspan><tspan x="73">_</tspan><tspan x="91">_</tspan><tspan x="150">にかかっていた</tspan></text><text class="n" x="100" y="42.5">1 (-0.63)</text></g>
<g id="p__OWI_" class="node b2" transform="translate(678,1359)"><rect width="122" height="50"/><path d="M0 26h122M18 0v26M42 0v26M66 0v26M104 0v26"/><text class="c" y="18.5"><tspan x="9">_</tspan><tspan x="30">男</tspan><tspan x="54">は</tspan><tspan x="85">医者</tspan><tspan x="113">_</tspan></text><text class="n" x="61" y="42.5">1 (-0.63)</text></g>
<g id="p__OW_N" class="node b2" transform="translate(647,1413)"><rect width="184" height="50"/><path d="M0 26h184M18 0v26M42 0v26M66 0v26M84 0v26"/><text class="c" y="18.5"><tspan x="9">_</tspan><tspan x="30">男</tspan><tspan x="54">は</tspan><tspan x="75">_</tspan><tspan x="134">にかかっていた</tspan></text><text class="n" x="92" y="42.5">1 (-0.63)</text></g>
<g id="p__O_IN" class="node b2" transform="translate(640,1466)"><rect width="198" height="50"/><path d="M0 26h198M18 0v26M42 0v26M60 0v26M98 0v26"/><text class="c" y="18.5"><tspan x="9">_</tspan><tspan x="30">男</tspan><tspan x="51">_</tspan><tspan x="79">医者</tspan><tspan x="148">にかかっていた</tspan></text><text class="n" x="99" y="42.5">1 (-0.63)</text></g>

<g id="p_TKWB_" class="node b3" transform="translate(942,128)"><rect width="130" height="50"/><path d="M0 26h130M40 0v26M64 0v26M88 0v26M112 0v26"/><text class="c" y="18.5"><tspan x="20">その</tspan><tspan x="52">書</tspan><tspan x="76">は</tspan><tspan x="100">壁</tspan><tspan x="121">_</tspan></text><text class="n" x="65" y="42.5">1 (-0.46)</text></g>
<g id="p_TK_BN" class="node b3" transform="translate(904,181)"><rect width="206" height="50"/><path d="M0 26h206M40 0v26M64 0v26M82 0v26M106 0v26"/><text class="c" y="18.5"><tspan x="20">その</tspan><tspan x="52">書</tspan><tspan x="73">_</tspan><tspan x="94">壁</tspan><tspan x="156">にかかっていた</tspan></text><text class="n" x="103" y="42.5">1 (-0.46)</text></g>
<g id="p__KWBN" class="node b3" transform="translate(912,235)"><rect width="190" height="50"/><path d="M0 26h190M18 0v26M42 0v26M66 0v26M90 0v26"/><text class="c" y="18.5"><tspan x="9">_</tspan><tspan x="30">書</tspan><tspan x="54">は</tspan><tspan x="78">壁</tspan><tspan x="140">にかかっていた</tspan></text><text class="n" x="95" y="42.5">1 (-0.46)</text></g>
<g id="p_TKW_N" class="node b3" transform="translate(904,288)"><rect width="206" height="50"/><path d="M0 26h206M40 0v26M64 0v26M88 0v26M106 0v26"/><text class="c" y="18.5"><tspan x="20">その</tspan><tspan x="52">書</tspan><tspan x="76">は</tspan><tspan x="97">_</tspan><tspan x="156">にかかっていた</tspan></text><text class="n" x="103" y="42.5">1 (-0.46)</text></g>
<g id="p_T_WBN" class="node o2" transform="translate(904,422)"><rect width="206" height="50"/><path d="M0 26h206M40 0v26M58 0v26M82 0v26M106 0v26"/><text class="c" y="18.5"><tspan x="20">その</tspan><tspan x="49">_</tspan><tspan x="70">は</tspan><tspan x="94">壁</tspan><tspan x="156">にかかっていた</tspan></text><text class="n" x="103" y="42.5">2 (2.16)</text></g>
<g id="p_TEWB_" class="node b3" transform="translate(942,502)"><rect width="130" height="50"/><path d="M0 26h130M40 0v26M64 0v26M88 0v26M112 0v26"/><text class="c" y="18.5"><tspan x="20">その</tspan><tspan x="52">絵</tspan><tspan x="76">は</tspan><tspan x="100">壁</tspan><tspan x="121">_</tspan></text><text class="n" x="65" y="42.5">1 (-0.46)</text></g>
<g id="p_TE_BN" class="node b3" transform="translate(904,556)"><rect width="206" height="50"/><path d="M0 26h206M40 0v26M64 0v26M82 0v26M106 0v26"/><text class="c" y="18.5"><tspan x="20">その</tspan><tspan x="52">絵</tspan><tspan x="73">_</tspan><tspan x="94">壁</tspan><tspan x="156">にかかっていた</tspan></text><text class="n" x="103" y="42.5">1 (-0.46)</text></g>
<g id="p__EWBN" class="node b3" transform="translate(912,610)"><rect width="190" height="50"/><path d="M0 26h190M18 0v26M42 0v26M66 0v26M90 0v26"/><text class="c" y="18.5"><tspan x="9">_</tspan><tspan x="30">絵</tspan><tspan x="54">は</tspan><tspan x="78">壁</tspan><tspan x="140">にかかっていた</tspan></text><text class="n" x="95" y="42.5">1 (-0.46)</text></g>
<g id="p_TEW_N" class="node o2" transform="translate(904,743)"><rect width="206" height="50"/><path d="M0 26h206M40 0v26M64 0v26M88 0v26M106 0v26"/><text class="c" y="18.5"><tspan x="20">その</tspan><tspan x="52">絵</tspan><tspan x="76">は</tspan><tspan x="97">_</tspan><tspan x="156">にかかっていた</tspan></text><text class="n" x="103" y="42.5">2 (2.16)</text></g>
<g id="p_TEWI_" class="node b3" transform="translate(935,877)"><rect width="144" height="50"/><path d="M0 26h144M40 0v26M64 0v26M88 0v26M126 0v26"/><text class="c" y="18.5"><tspan x="20">その</tspan><tspan x="52">絵</tspan><tspan x="76">は</tspan><tspan x="107">医者</tspan><tspan x="135">_</tspan></text><text class="n" x="72" y="42.5">1 (-0.46)</text></g>
<g id="p_TE_IN" class="node b3" transform="translate(897,931)"><rect width="220" height="50"/><path d="M0 26h220M40 0v26M64 0v26M82 0v26M120 0v26"/><text class="c" y="18.5"><tspan x="20">その</tspan><tspan x="52">絵</tspan><tspan x="73">_</tspan><tspan x="101">医者</tspan><tspan x="170">にかかっていた</tspan></text><text class="n" x="110" y="42.5">1 (-0.46)</text></g>
<g id="p__EWIN" class="node b3" transform="translate(905,984)"><rect width="204" height="50"/><path d="M0 26h204M18 0v26M42 0v26M66 0v26M104 0v26"/><text class="c" y="18.5"><tspan x="9">_</tspan><tspan x="30">絵</tspan><tspan x="54">は</tspan><tspan x="85">医者</tspan><tspan x="154">にかかっていた</tspan></text><text class="n" x="102" y="42.5">1 (-0.46)</text></g>
<g id="p_T_WIN" class="node o2" transform="translate(897,1065)"><rect width="220" height="50"/><path d="M0 26h220M40 0v26M58 0v26M82 0v26M120 0v26"/><text class="c" y="18.5"><tspan x="20">その</tspan><tspan x="49">_</tspan><tspan x="70">は</tspan><tspan x="101">医者</tspan><tspan x="170">にかかっていた</tspan></text><text class="n" x="110" y="42.5">2 (2.16)</text></g>
<g id="p_TOWI_" class="node b3" transform="translate(935,1199)"><rect width="144" height="50"/><path d="M0 26h144M40 0v26M64 0v26M88 0v26M126 0v26"/><text class="c" y="18.5"><tspan x="20">その</tspan><tspan x="52">男</tspan><tspan x="76">は</tspan><tspan x="107">医者</tspan><tspan x="135">_</tspan></text><text class="n" x="72" y="42.5">1 (-0.46)</text></g>
<g id="p_TOW_N" class="node b3" transform="translate(904,1252)"><rect width="206" height="50"/><path d="M0 26h206M40 0v26M64 0v26M88 0v26M106 0v26"/><text class="c" y="18.5"><tspan x="20">その</tspan><tspan x="52">男</tspan><tspan x="76">は</tspan><tspan x="97">_</tspan><tspan x="156">にかかっていた</tspan></text><text class="n" x="103" y="42.5">1 (-0.46)</text></g>
<g id="p_TO_IN" class="node b3" transform="translate(897,1306)"><rect width="220" height="50"/><path d="M0 26h220M40 0v26M64 0v26M82 0v26M120 0v26"/><text class="c" y="18.5"><tspan x="20">その</tspan><tspan x="52">男</tspan><tspan x="73">_</tspan><tspan x="101">医者</tspan><tspan x="170">にかかっていた</tspan></text><text class="n" x="110" y="42.5">1 (-0.46)</text></g>
<g id="p__OWIN" class="node b3" transform="translate(905,1359)"><rect width="204" height="50"/><path d="M0 26h204M18 0v26M42 0v26M66 0v26M104 0v26"/><text class="c" y="18.5"><tspan x="9">_</tspan><tspan x="30">男</tspan><tspan x="54">は</tspan><tspan x="85">医者</tspan><tspan x="154">にかかっていた</tspan></text><text class="n" x="102" y="42.5">1 (-0.46)</text></g>

<g id="p_TKWBN" class="node w" transform="translate(1173,235)"><rect width="212" height="50"/><path d="M0 26h212M40 0v26M64 0v26M88 0v26M112 0v26"/><text class="c" y="18.5"><tspan x="20">その</tspan><tspan x="52">書</tspan><tspan x="76">は</tspan><tspan x="100">壁</tspan><tspan x="162">にかかっていた</tspan></text><text class="n" x="106" y="42.5">1 (0.0)</text></g>
<g id="p_TEWBN" class="node w" transform="translate(1173,556)"><rect width="212" height="50"/><path d="M0 26h212M40 0v26M64 0v26M88 0v26M112 0v26"/><text class="c" y="18.5"><tspan x="20">その</tspan><tspan x="52">絵</tspan><tspan x="76">は</tspan><tspan x="100">壁</tspan><tspan x="162">にかかっていた</tspan></text><text class="n" x="106" y="42.5">1 (0.0)</text></g>
<g id="p_TEWIN" class="node w" transform="translate(1166,931)"><rect width="226" height="50"/><path d="M0 26h226M40 0v26M64 0v26M88 0v26M126 0v26"/><text class="c" y="18.5"><tspan x="20">その</tspan><tspan x="52">絵</tspan><tspan x="76">は</tspan><tspan x="107">医者</tspan><tspan x="176">にかかっていた</tspan></text><text class="n" x="113" y="42.5">1 (0.0)</text></g>
<g id="p_TOWIN" class="node w" transform="translate(1166,1252)"><rect width="226" height="50"/><path d="M0 26h226M40 0v26M64 0v26M88 0v26M126 0v26"/><text class="c" y="18.5"><tspan x="20">その</tspan><tspan x="52">男</tspan><tspan x="76">は</tspan><tspan x="107">医者</tspan><tspan x="176">にかかっていた</tspan></text><text class="n" x="113" y="42.5">1 (0.0)</text></g>
</g>
<g id="caption">
<circle class="t" cx="1408" cy="130" r="10.5"/>
<text class="t" x="1430" y="143" font-family="Liberation Serif, serif" font-size="54" textLength="540" lengthAdjust="spacingAndGlyphs">{ (5a), (5b), (6a), (5′a) }</text>
<text class="t" x="1393" y="214" font-family="Noto Sans CJK JP, sans-serif" font-size="50" font-weight="300" textLength="328" lengthAdjust="spacingAndGlyphs">のパターン束</text>
<circle class="t" cx="1475" cy="313" r="9.5"/>
<text class="t" x="1495" y="326" font-family="Liberation Serif, Noto Sans CJK JP, serif" font-size="54" font-weight="300" textLength="379" lengthAdjust="spacingAndGlyphs">RubyPLB で作成</text>
</g>
<text x="18" y="1568" font-family="Liberation Sans, Arial, sans-serif" font-size="31" fill="#111">Thursday, March 10, 2011</text>
</svg>
